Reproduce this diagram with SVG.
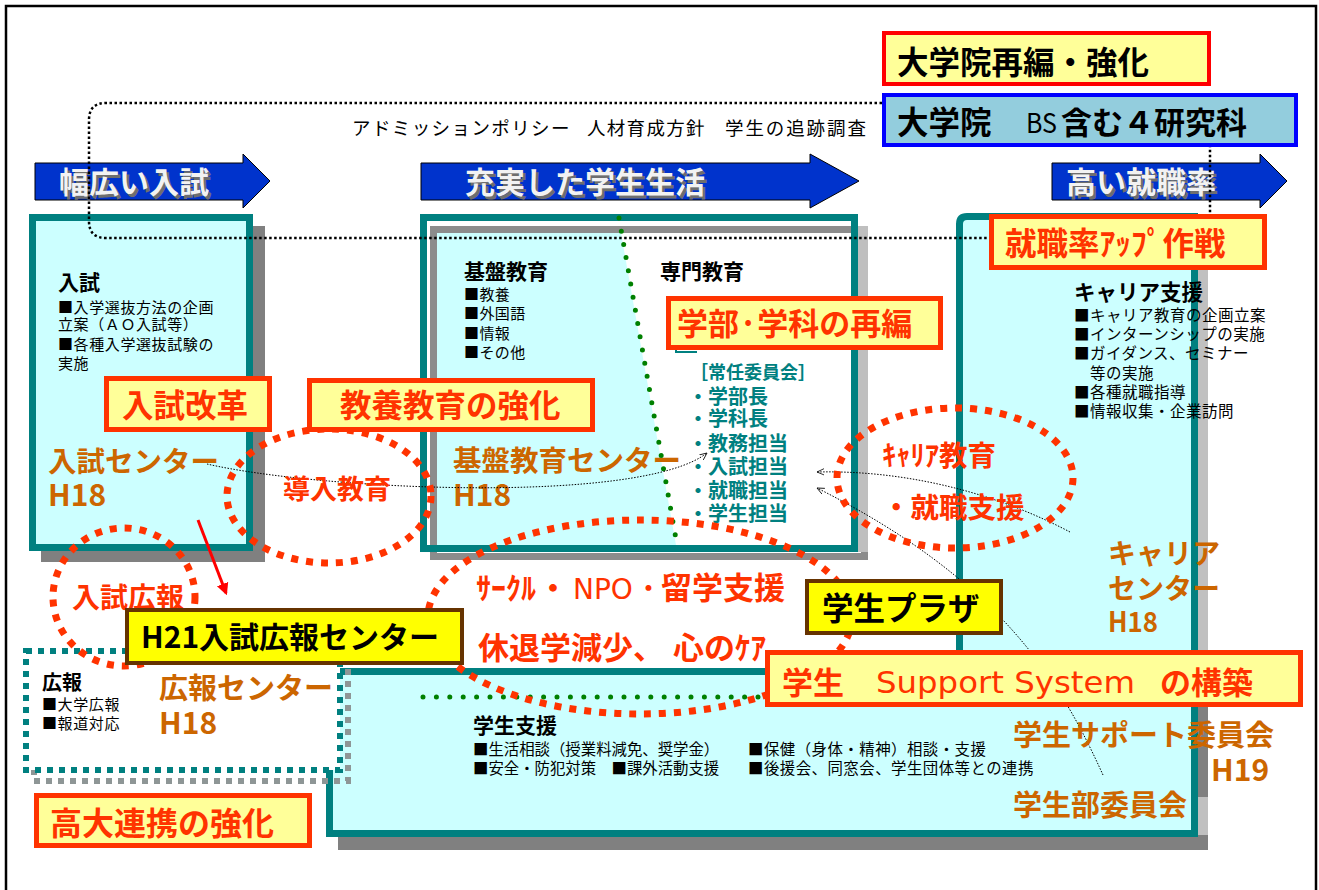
<svg xmlns="http://www.w3.org/2000/svg" width="1319" height="890" viewBox="0 0 1319 890">
<defs>
<style>
text{font-family:"Noto Sans CJK JP","Liberation Sans",sans-serif;}
.b{font-weight:bold;}
.or{fill:#FF3300;}
.br{fill:#CC6600;}
.tl{fill:#008080;}
.k{fill:#000000;}
.ybox{fill:#FFFF99;stroke:#FF3300;stroke-width:5;}
.pbox{fill:#FFFF00;stroke:#663300;stroke-width:4;}
.ell{fill:none;stroke:#FF3300;stroke-width:7;stroke-dasharray:7 8;}
.arrow{fill:#0033CC;stroke:#000000;stroke-width:1;}
.atxt{font-weight:bold;font-size:30px;fill:#F2F2F2;}
.ashd{font-weight:bold;font-size:30px;fill:#6E6E6E;}
.conn{fill:none;stroke:#000000;stroke-width:1;stroke-dasharray:1.5 1.5;}
.gdot{fill:none;stroke:#008000;stroke-width:5;stroke-linecap:round;stroke-dasharray:0 13.4;}
.s15{font-size:15px;}
.lat{font-family:"DejaVu Sans",sans-serif;font-weight:normal;}
</style>
<marker id="ah" viewBox="0 0 10 10" refX="9" refY="5" markerWidth="8" markerHeight="8" markerUnits="userSpaceOnUse" orient="auto">
<path d="M0,1 L9,5 L0,9" fill="none" stroke="#000" stroke-width="1"/>
</marker>
<marker id="rh" viewBox="0 0 10 10" refX="8" refY="5" markerWidth="12" markerHeight="14" markerUnits="userSpaceOnUse" orient="auto">
<path d="M0,0 L10,5 L0,10 Z" fill="#FF0000"/>
</marker>
</defs>

<rect x="0" y="0" width="1319" height="890" fill="#FFFFFF"/>
<rect id="frame" x="6" y="6" width="1310" height="900" fill="none" stroke="#000" stroke-width="2.5"/>

<!-- blue arrows -->
<g id="arrow-nyushi">
<path class="arrow" d="M35,163 H243 V154 L270,181 L243,208 V200 H35 Z"/>
<text class="ashd" x="61.5" y="195.5">幅広い入試</text>
<text class="atxt" x="59" y="193">幅広い入試</text>
</g>
<g id="arrow-gakusei">
<path class="arrow" d="M421,163 H810 V154 L859,181 L810,208 V200 H421 Z"/>
<text class="ashd" x="467.5" y="195.5">充実した学生生活</text>
<text class="atxt" x="465" y="193">充実した学生生活</text>
</g>
<g id="arrow-shushoku">
<path class="arrow" d="M1052,163 H1260 V154 L1287,181 L1260,208 V200 H1052 Z"/>
<text class="ashd" x="1068.5" y="195.5">高い就職率</text>
<text class="atxt" x="1066" y="193">高い就職率</text>
</g>

<!-- policy text -->
<g id="policy">
<text x="352" y="135" font-size="18.5" letter-spacing="1.4" class="k">アドミッションポリシー</text>
<text x="587" y="135" font-size="18.5" letter-spacing="1.3" class="k">人材育成方針</text>
<text x="725" y="135" font-size="18.5" letter-spacing="1.9" class="k">学生の追跡調査</text>
</g>

<!-- left panel: 入試 -->
<g id="panel-nyushi">
<rect x="41" y="226" width="224" height="336" fill="#808080"/>
<rect x="32.5" y="217.5" width="217" height="330" fill="#CCFFFF" stroke="#008080" stroke-width="7"/>
<text x="58" y="290" font-size="21" class="b k">入試</text>
<text x="58" y="313" class="s15 k" letter-spacing="0.6">■入学選抜方法の企画</text>
<text x="58" y="330" class="s15 k" letter-spacing="0.6">立案（ＡＯ入試等）</text>
<text x="58" y="350" class="s15 k" letter-spacing="0.6">■各種入学選抜試験の</text>
<text x="58" y="369" class="s15 k" letter-spacing="0.6">実施</text>
<text x="48" y="472" font-size="28.5" class="b br">入試センター</text>
<text x="48" y="506" font-size="30" class="b br">H18</text>
</g>

<!-- center panel -->
<g id="panel-center">
<rect x="433.5" y="229.5" width="431" height="327" fill="#FFFFFF" stroke="#8C8C8C" stroke-width="7"/>
<rect x="858" y="226" width="10" height="326" fill="#BFBFBF"/>
<polygon points="437,233 621,233 676,545 437,545" fill="#CCFFFF"/>
<rect x="423.5" y="217.5" width="431" height="331" fill="none" stroke="#008080" stroke-width="7"/>
<text x="464" y="279" font-size="21" class="b k">基盤教育</text>
<text x="464" y="300" class="s15 k" letter-spacing="0.4">■教養</text>
<text x="464" y="319" class="s15 k" letter-spacing="0.4">■外国語</text>
<text x="464" y="339" class="s15 k" letter-spacing="0.4">■情報</text>
<text x="464" y="358" class="s15 k" letter-spacing="0.4">■その他</text>
<text x="660" y="279" font-size="21" class="b k">専門教育</text>
<polyline points="676,337 676,352 697,352" fill="none" stroke="#008080" stroke-width="2"/>
<text x="690" y="379" font-size="18" class="b tl">［常任委員会］</text>
<text x="688" y="403.6" font-size="20" class="b tl">・学部長</text>
<text x="688" y="425.6" font-size="20" class="b tl">・学科長</text>
<text x="688" y="450.6" font-size="20" class="b tl">・教務担当</text>
<text x="688" y="473.6" font-size="20" class="b tl">・入試担当</text>
<text x="688" y="497.6" font-size="20" class="b tl">・就職担当</text>
<text x="688" y="520.6" font-size="20" class="b tl">・学生担当</text>
<text x="453" y="471" font-size="28.5" class="b br">基盤教育センター</text>
<text x="453" y="506" font-size="30" class="b br">H18</text>
</g>

<!-- right + bottom L panel -->
<g id="panel-career-support">
<path d="M966,223 H1208 V850 H338 V678 H966 Z" fill="#808080"/>
<rect x="1198" y="223" width="10" height="484" fill="#C0C0C0"/>
<rect x="1198" y="797" width="10" height="38" fill="#C0C0C0"/>
<path d="M959.5,224 Q959.5,216.5 967,216.5 H1194.5 V833.5 H329.5 V671.5 H959.5 Z" fill="#CCFFFF" stroke="#008080" stroke-width="7"/>
<text x="1074" y="300" font-size="21.5" class="b k">キャリア支援</text>
<text x="1074" y="321" font-size="15.5" letter-spacing="0.5" class="k">■キャリア教育の企画立案</text>
<text x="1074" y="340" font-size="15.5" letter-spacing="0.5" class="k">■インターンシップの実施</text>
<text x="1074" y="359" font-size="15.5" letter-spacing="0.5" class="k">■ガイダンス、セミナー</text>
<text x="1074" y="379" font-size="15.5" letter-spacing="0.5" class="k">　等の実施</text>
<text x="1074" y="398" font-size="15.5" letter-spacing="0.5" class="k">■各種就職指導</text>
<text x="1074" y="417" font-size="15.5" letter-spacing="0.5" class="k">■情報収集・企業訪問</text>
<text x="1108" y="564" font-size="28" class="b br">キャリア</text>
<text x="1108" y="599" font-size="28" class="b br">センター</text>
<text x="1108" y="632" font-size="28" class="b br" textLength="50" lengthAdjust="spacingAndGlyphs">H18</text>
<text x="473" y="733" font-size="21" class="b k">学生支援</text>
<text x="473" y="755" font-size="15.4" class="k">■生活相談（授業料減免、奨学金）</text>
<text x="748" y="755" font-size="15.4" letter-spacing="0.5" class="k">■保健（身体・精神）相談・支援</text>
<text x="473" y="774" font-size="15.4" class="k">■安全・防犯対策　■課外活動支援</text>
<text x="748" y="774" font-size="15.4" letter-spacing="0.5" class="k">■後援会、同窓会、学生団体等との連携</text>
</g>

<!-- 広報 box -->
<g id="kouhou">
<rect x="34" y="659" width="314" height="122" fill="none" stroke="#8E9696" stroke-width="6" stroke-dasharray="6 6"/>
<rect x="26" y="651" width="314" height="119" fill="#FFFFFF" stroke="#008080" stroke-width="6" stroke-dasharray="6 6"/>
<text x="42" y="690" font-size="20" class="b k">広報</text>
<text x="42" y="710" class="s15 k" letter-spacing="0.6">■大学広報</text>
<text x="42" y="729" class="s15 k" letter-spacing="0.6">■報道対応</text>
<text x="159" y="699" font-size="29" class="b br">広報センター</text>
<text x="159" y="734" font-size="30" class="b br">H18</text>
</g>

<!-- connectors -->
<g id="connectors">
<path d="M882,103 H106 Q89,103 89,120 V221 Q89,238 106,238 H1193 Q1210,238 1210,221 V147" fill="none" stroke="#000" stroke-width="2.5" stroke-dasharray="2.5 2.5"/>
<line class="gdot" x1="619" y1="218" x2="676" y2="539"/>
<line class="gdot" x1="423" y1="697" x2="762" y2="697"/>
<path class="conn" d="M207,464 C320,490 640,505 707,453" marker-end="url(#ah)"/>
<path class="conn" d="M1070,532 C990,490 900,470 817,472" marker-end="url(#ah)"/>
<path class="conn" d="M1103,775 C1060,680 1000,580 817,488" marker-end="url(#ah)"/>
<line x1="198" y1="520" x2="226" y2="593" stroke="#FF0000" stroke-width="3" marker-end="url(#rh)"/>
</g>

<!-- dotted ellipses -->
<g id="ellipses">
<ellipse class="ell" cx="329" cy="496" rx="102" ry="67"/>
<ellipse class="ell" cx="124" cy="597" rx="71" ry="69"/>
<ellipse class="ell" cx="640" cy="617" rx="212" ry="97"/>
<ellipse class="ell" cx="955" cy="478" rx="118" ry="70"/>
</g>

<g id="ellipse-labels">
<text x="283" y="499" font-size="27" class="b or">導入教育</text>
<text x="72" y="608" font-size="28" class="b or">入試広報</text>
<text x="882" y="466" font-size="28.5" class="b or">ｷｬﾘｱ教育</text>
<text x="882" y="518" font-size="28.5" class="b or">・就職支援</text>
<text x="476" y="599" font-size="30" class="b or">ｻｰｸﾙ</text>
<text x="538" y="599" font-size="30" class="b or">・</text>
<text x="573" y="599" font-size="28" class="lat or">NPO</text>
<text x="641" y="599" font-size="30" class="b or">･</text>
<text x="661" y="599" font-size="31" class="b or">留学支援</text>
<text x="478" y="659" font-size="31" class="b or">休退学減少、</text>
<text x="673" y="659" font-size="31" class="b or">心のｹｱ</text>
</g>

<!-- top right boxes -->
<g id="box-daigakuin-saihen">
<rect x="884" y="33" width="325" height="51" fill="#FFFF99" stroke="#FF0000" stroke-width="4"/>
<text x="897" y="74" font-size="31.5" class="b k">大学院再編・強化</text>
</g>
<g id="box-daigakuin">
<rect x="884" y="95" width="412" height="50" fill="#93CDDD" stroke="#0000FF" stroke-width="4"/>
<text x="897" y="134" font-size="31.5" class="b k">大学院</text>
<text x="1026" y="133" font-size="27" font-family="Liberation Sans, sans-serif" class="k" textLength="31" lengthAdjust="spacingAndGlyphs">BS</text>
<text x="1061" y="134" font-size="31" class="b k">含む４研究科</text>
</g>

<!-- label boxes -->
<g id="box-nyushi-kaikaku">
<rect class="ybox" x="106.5" y="378.5" width="163" height="51"/>
<text x="122" y="417" font-size="31.5" class="b or">入試改革</text>
</g>
<g id="box-kyouyou">
<rect class="ybox" x="309.5" y="380.5" width="283" height="49"/>
<text x="340" y="417" font-size="31.5" class="b or">教養教育の強化</text>
</g>
<g id="box-gakubu">
<rect class="ybox" x="668.5" y="298.5" width="272" height="49"/>
<text x="677" y="335" font-size="31" class="b or">学部·学科の再編</text>
</g>
<g id="box-shushoku">
<rect class="ybox" x="991.5" y="216.5" width="273" height="51"/>
<text x="1005" y="255" font-size="31.5" class="b or">就職率ｱｯﾌﾟ作戦</text>
</g>
<g id="box-h21">
<rect class="pbox" x="127" y="610" width="335" height="53"/>
<text x="141" y="648" font-size="30" class="b k">H21入試広報センター</text>
</g>
<g id="box-plaza">
<rect class="pbox" x="807" y="581" width="194" height="52"/>
<text x="822" y="620" font-size="31.5" class="b k">学生プラザ</text>
</g>
<g id="box-support">
<rect class="ybox" x="767.5" y="652.5" width="533" height="52"/>
<text x="782" y="694" font-size="31" class="b or">学生</text>
<text x="876" y="693" font-size="31" class="lat or" textLength="259" lengthAdjust="spacingAndGlyphs">Support System</text>
<text x="1160" y="694" font-size="31" class="b or">の構築</text>
</g>
<g id="box-koudai">
<rect class="ybox" x="36.5" y="795.5" width="273" height="50"/>
<text x="50" y="835" font-size="32" class="b or">高大連携の強化</text>
</g>

<!-- committee labels -->
<g id="committees">
<text x="1013" y="746" font-size="29" class="b br">学生サポート委員会</text>
<text x="1211" y="781" font-size="30" class="b br">H19</text>
<text x="1013" y="816" font-size="29" class="b br">学生部委員会</text>
</g>
</svg>
